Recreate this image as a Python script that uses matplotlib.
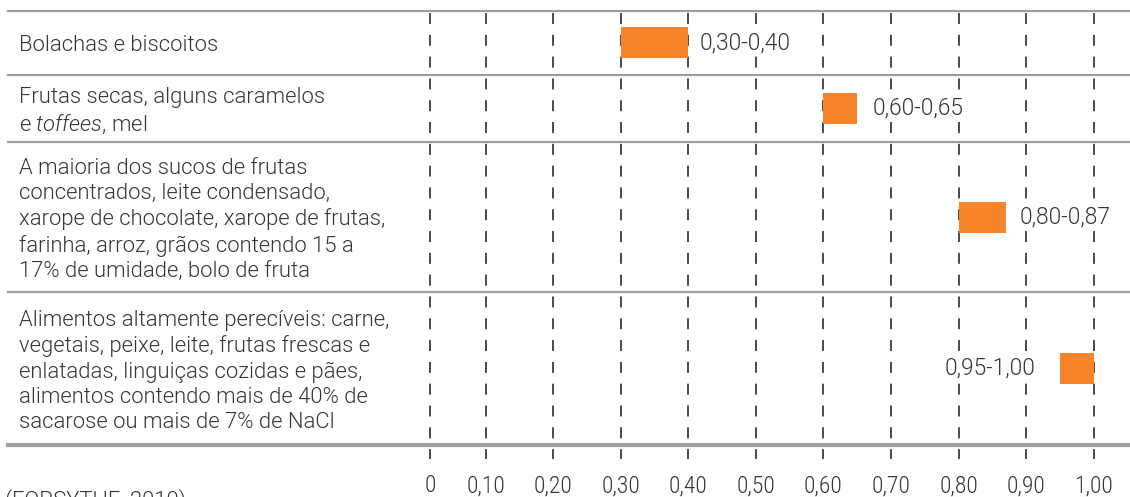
import numpy as np
import matplotlib
matplotlib.use("Agg")
import matplotlib.pyplot as plt
from matplotlib.transforms import blended_transform_factory

plt.rcParams["font.family"] = "Roboto"
plt.rcParams["font.weight"] = 300
plt.rcParams["lines.scale_dashes"] = False
plt.rcParams["mathtext.fontset"] = "custom"
plt.rcParams["mathtext.it"] = "Roboto:style=italic:weight=300"
plt.rcParams["mathtext.rm"] = "Roboto:weight=300"

# water activity ranges per food group
categories = [
    "Bolachas e biscoitos",
    "Frutas secas, alguns caramelos\ne $\\mathit{toffees}$, mel",
    "A maioria dos sucos de frutas\nconcentrados, leite condensado,\n"
    "xarope de chocolate, xarope de frutas,\nfarinha, arroz, grãos contendo 15 a\n"
    "17% de umidade, bolo de fruta",
    "Alimentos altamente perecíveis: carne,\nvegetais, peixe, leite, frutas frescas e\n"
    "enlatadas, linguiças cozidas e pães,\nalimentos contendo mais de 40% de\n"
    "sacarose ou mais de 7% de NaCl",
]
aw_low = [0.30, 0.60, 0.80, 0.95]
aw_high = [0.40, 0.65, 0.87, 1.00]
range_labels = ["0,30-0,40", "0,60-0,65", "0,80-0,87", "0,95-1,00"]
tick_values = [0, 0.10, 0.20, 0.30, 0.40, 0.50, 0.60, 0.70, 0.80, 0.90, 1.00]
tick_labels = ["0", "0,10", "0,20", "0,30", "0,40", "0,50", "0,60", "0,70", "0,80", "0,90", "1,00"]
source = "(FORSYTHE, 2010)"

# row separators (pixel rows of the table, top to bottom)
row_edges = [11, 74.5, 142, 292, 445]

ORANGE = "#f5842a"
TEXT = "#363636"
GRID = "#9e9e9e"

# the 0 -> 0,10 step is drawn shorter than the others in the original
K = 0.818


def fwd(x):
    x = np.asarray(x, dtype=float)
    return np.where(x < 0.1, 0.1 - (0.1 - x) * K, x)


def inv(s):
    s = np.asarray(s, dtype=float)
    return np.where(s < 0.1, 0.1 - (0.1 - s) / K, s)


fig = plt.figure(figsize=(11.3, 4.97), dpi=100)
ax = fig.add_axes([0, 0, 1, 1])
ax.set_xscale("function", functions=(fwd, inv))
ax.set_xlim(-0.7785, 1.0537)
ax.set_ylim(497, 0)
ax.axis("off")

# dashed guides
ax.vlines(tick_values, 12.7, 459, colors="#4a4a4a", linewidth=1.4,
          linestyles=[(0, (7.9, 7.8))], zorder=1)

# row separators
for i, y in enumerate(row_edges):
    last = i == len(row_edges) - 1
    ax.axhline(y, xmin=8 / 1130, xmax=1, color=GRID, linewidth=3 if last else 1.6, zorder=2)

centers = [(a + b) / 2 for a, b in zip(row_edges[:-1], row_edges[1:])]
ax.barh(centers, np.array(aw_high) - np.array(aw_low), left=aw_low, height=31,
        color=ORANGE, zorder=3)

tl = blended_transform_factory(fig.transFigure, ax.transData)
for y, label in zip(centers, categories):
    ax.text(19 / 1130, y + 3, label, transform=tl, ha="left", va="center",
            fontsize=15.8, color=TEXT, linespacing=1.27)

pads = [11, 15, 14, -24]
for y, lo, hi, lab, p in zip(centers, aw_low, aw_high, range_labels, pads):
    box = dict(facecolor="white", edgecolor="none", pad=1)
    if p > 0:
        ax.annotate(lab, (hi, y), xytext=(p * 0.72, 0), textcoords="offset points",
                    ha="left", va="center", fontsize=16.4, color=TEXT, bbox=box, zorder=4)
    else:
        ax.annotate(lab, (lo, y), xytext=(p * 0.72, 0), textcoords="offset points",
                    ha="right", va="center", fontsize=16.4, color=TEXT, bbox=box, zorder=4)

for v, lab in zip(tick_values, tick_labels):
    ax.text(v, 486, lab, ha="center", va="center", fontsize=17, color=TEXT,
            family="Roboto Condensed", weight=300)

ax.text(5 / 1130, 489.5, source, transform=tl, ha="left", va="top", fontsize=15.8, color=TEXT)

fig.savefig("out.png", dpi=100)
